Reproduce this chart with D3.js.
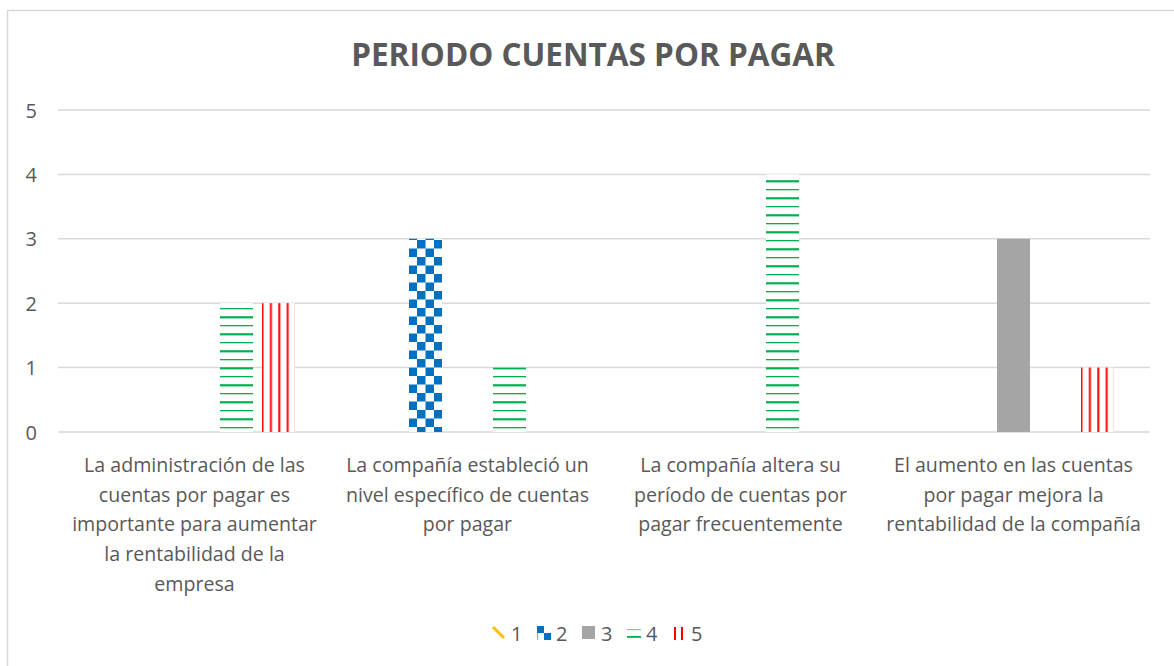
<!DOCTYPE html>
<html>
<head>
<meta charset="utf-8">
<script src="https://cdn.jsdelivr.net/npm/d3@7"></script>
<style>
  body { margin: 0; background: #fff; }
  text { font-family: "Open Sans", "DejaVu Sans", sans-serif; fill: #595959; }
</style>
</head>
<body>
<svg id="chart"></svg>
<script>
// categories (already wrapped as in the original)
var categories = [
  ["La administración de las", "cuentas por pagar es", "importante para aumentar", "la rentabilidad de la", "empresa"],
  ["La compañía estableció un", "nivel específico de cuentas", "por pagar"],
  ["La compañía altera su", "período de cuentas por", "pagar frecuentemente"],
  ["El aumento en las cuentas", "por pagar mejora la", "rentabilidad de la compañía"]
];
var seriesNames = ["1", "2", "3", "4", "5"];
var serie1 = [0, 0, 0, 0];
var serie2 = [0, 3, 0, 0];
var serie3 = [0, 0, 0, 3];
var serie4 = [2, 1, 4, 0];
var serie5 = [2, 0, 0, 1];
var yTicks = [0, 1, 2, 3, 4, 5];
var title = "PERIODO CUENTAS POR PAGAR";

var allSeries = [serie1, serie2, serie3, serie4, serie5];

let width = 1174;
let height = 666;

let svg = d3.select("#chart")
  .attr("width", width)
  .attr("height", height);

// patterns
let defs = svg.append("defs");

let p1 = defs.append("pattern").attr("id", "pat1")
  .attr("patternUnits", "userSpaceOnUse").attr("width", 8).attr("height", 8);
p1.append("path").attr("d", "M0,0 L8,8 M-4,4 L4,12 M4,-4 L12,4")
  .attr("stroke", "#FFC000").attr("stroke-width", 3);

let p2 = defs.append("pattern").attr("id", "pat2")
  .attr("patternUnits", "userSpaceOnUse").attr("width", 17).attr("height", 17)
  .attr("x", 409).attr("y", 240);
p2.append("rect").attr("width", 17).attr("height", 17).attr("fill", "#fff");
p2.append("rect").attr("x", 0).attr("y", 0).attr("width", 8.5).attr("height", 8.5).attr("fill", "#0070C0");
p2.append("rect").attr("x", 8.5).attr("y", 8.5).attr("width", 8.5).attr("height", 8.5).attr("fill", "#0070C0");

let p4 = defs.append("pattern").attr("id", "pat4")
  .attr("patternUnits", "userSpaceOnUse").attr("width", 17).attr("height", 17)
  .attr("x", 0).attr("y", 308);
p4.append("rect").attr("width", 17).attr("height", 17).attr("fill", "#fff");
p4.append("rect").attr("x", 0).attr("y", 0).attr("width", 17).attr("height", 1.3).attr("fill", "#00B050");
p4.append("rect").attr("x", 0).attr("y", 8.2).attr("width", 17).attr("height", 2.2).attr("fill", "#00B050");

let p5 = defs.append("pattern").attr("id", "pat5")
  .attr("patternUnits", "userSpaceOnUse").attr("width", 8.4).attr("height", 10)
  .attr("x", 262).attr("y", 0);
p5.append("rect").attr("width", 8.4).attr("height", 10).attr("fill", "#fff");
p5.append("rect").attr("x", 0.3).attr("y", 0).attr("width", 2).attr("height", 10).attr("fill", "#FF0000");

var fills = ["url(#pat1)", "url(#pat2)", "#A5A5A5", "url(#pat4)", "url(#pat5)"];

// outer border
svg.append("rect")
  .attr("x", 7.5).attr("y", 10.5)
  .attr("width", 1300).attr("height", 800)
  .attr("fill", "none").attr("stroke", "#D9D9D9").attr("stroke-width", 1.5);

svg.append("text")
  .attr("x", 593).attr("y", 66)
  .attr("text-anchor", "middle")
  .attr("font-size", 31.5).attr("font-weight", "bold")
  .text(title);

let plotLeft = 58, plotRight = 1150;

let y = d3.scaleLinear().domain([0, 5]).range([432, 110]);

let x0 = d3.scaleBand()
  .domain(d3.range(categories.length))
  .range([plotLeft, plotRight]);

let x1 = d3.scaleBand()
  .domain(d3.range(seriesNames.length))
  .range([0, x0.bandwidth()])
  .paddingInner(9 / 42)
  .paddingOuter(36 / 42);

// gridlines
svg.append("g").selectAll("line")
  .data(yTicks)
  .enter()
  .append("line")
  .attr("x1", plotLeft).attr("x2", plotRight)
  .attr("y1", d => y(d)).attr("y2", d => y(d))
  .attr("stroke", "#D9D9D9").attr("stroke-width", 1.5);

// y labels
svg.append("g").selectAll("text")
  .data(yTicks)
  .enter()
  .append("text")
  .attr("x", 37).attr("y", d => y(d) + 7.5)
  .attr("text-anchor", "end")
  .attr("font-size", 20)
  .text(d => d);

// bars
let groups = svg.append("g").selectAll("g")
  .data(categories)
  .enter()
  .append("g")
  .attr("transform", (d, i) => "translate(" + x0(i) + ",0)");

groups.selectAll("rect")
  .data((d, i) => allSeries.map((s, j) => ({ s: j, v: s[i] })))
  .enter()
  .filter(d => d.v > 0)
  .append("rect")
  .attr("x", d => x1(d.s))
  .attr("width", x1.bandwidth())
  .attr("y", d => y(d.v))
  .attr("height", d => y(0) - y(d.v))
  .attr("fill", d => fills[d.s]);

// category labels
groups.append("text")
  .attr("text-anchor", "middle")
  .attr("font-size", 19.6)
  .selectAll("tspan")
  .data(d => d)
  .enter()
  .append("tspan")
  .attr("x", x0.bandwidth() / 2)
  .attr("y", (d, i) => 472 + i * 29.7)
  .text(d => d);

// legend
let legend = svg.append("g").attr("transform", "translate(492,626)");
let item = legend.selectAll("g")
  .data(seriesNames)
  .enter()
  .append("g")
  .attr("transform", (d, i) => "translate(" + i * 45 + ",0)");

item.each(function (d, i) {
  let g = d3.select(this);
  if (i === 0) {
    g.append("line").attr("x1", 1).attr("y1", 1).attr("x2", 12).attr("y2", 12)
      .attr("stroke", "#FFC000").attr("stroke-width", 3);
  } else if (i === 1) {
    g.append("rect").attr("x", 0).attr("y", 0).attr("width", 7).attr("height", 7).attr("fill", "#0070C0");
    g.append("rect").attr("x", 7).attr("y", 7).attr("width", 7).attr("height", 7).attr("fill", "#0070C0");
    g.append("rect").attr("x", 0).attr("y", 7).attr("width", 1.2).attr("height", 7).attr("fill", "#7fb4de");
  } else if (i === 2) {
    g.append("rect").attr("x", 0).attr("y", 0).attr("width", 13).attr("height", 13).attr("fill", "#A5A5A5");
  } else if (i === 3) {
    g.append("rect").attr("x", 0).attr("y", 3).attr("width", 14).attr("height", 1.2).attr("fill", "#6fd69b");
    g.append("rect").attr("x", 0).attr("y", 10).attr("width", 14).attr("height", 1.8).attr("fill", "#00B050");
  } else {
    g.append("rect").attr("x", 2).attr("y", 1).attr("width", 2).attr("height", 13).attr("fill", "#FF0000");
    g.append("rect").attr("x", 9).attr("y", 1).attr("width", 2).attr("height", 13).attr("fill", "#FF0000");
  }
  g.append("text").attr("x", 19).attr("y", 15).attr("font-size", 20).text(d);
});
</script>
</body>
</html>
